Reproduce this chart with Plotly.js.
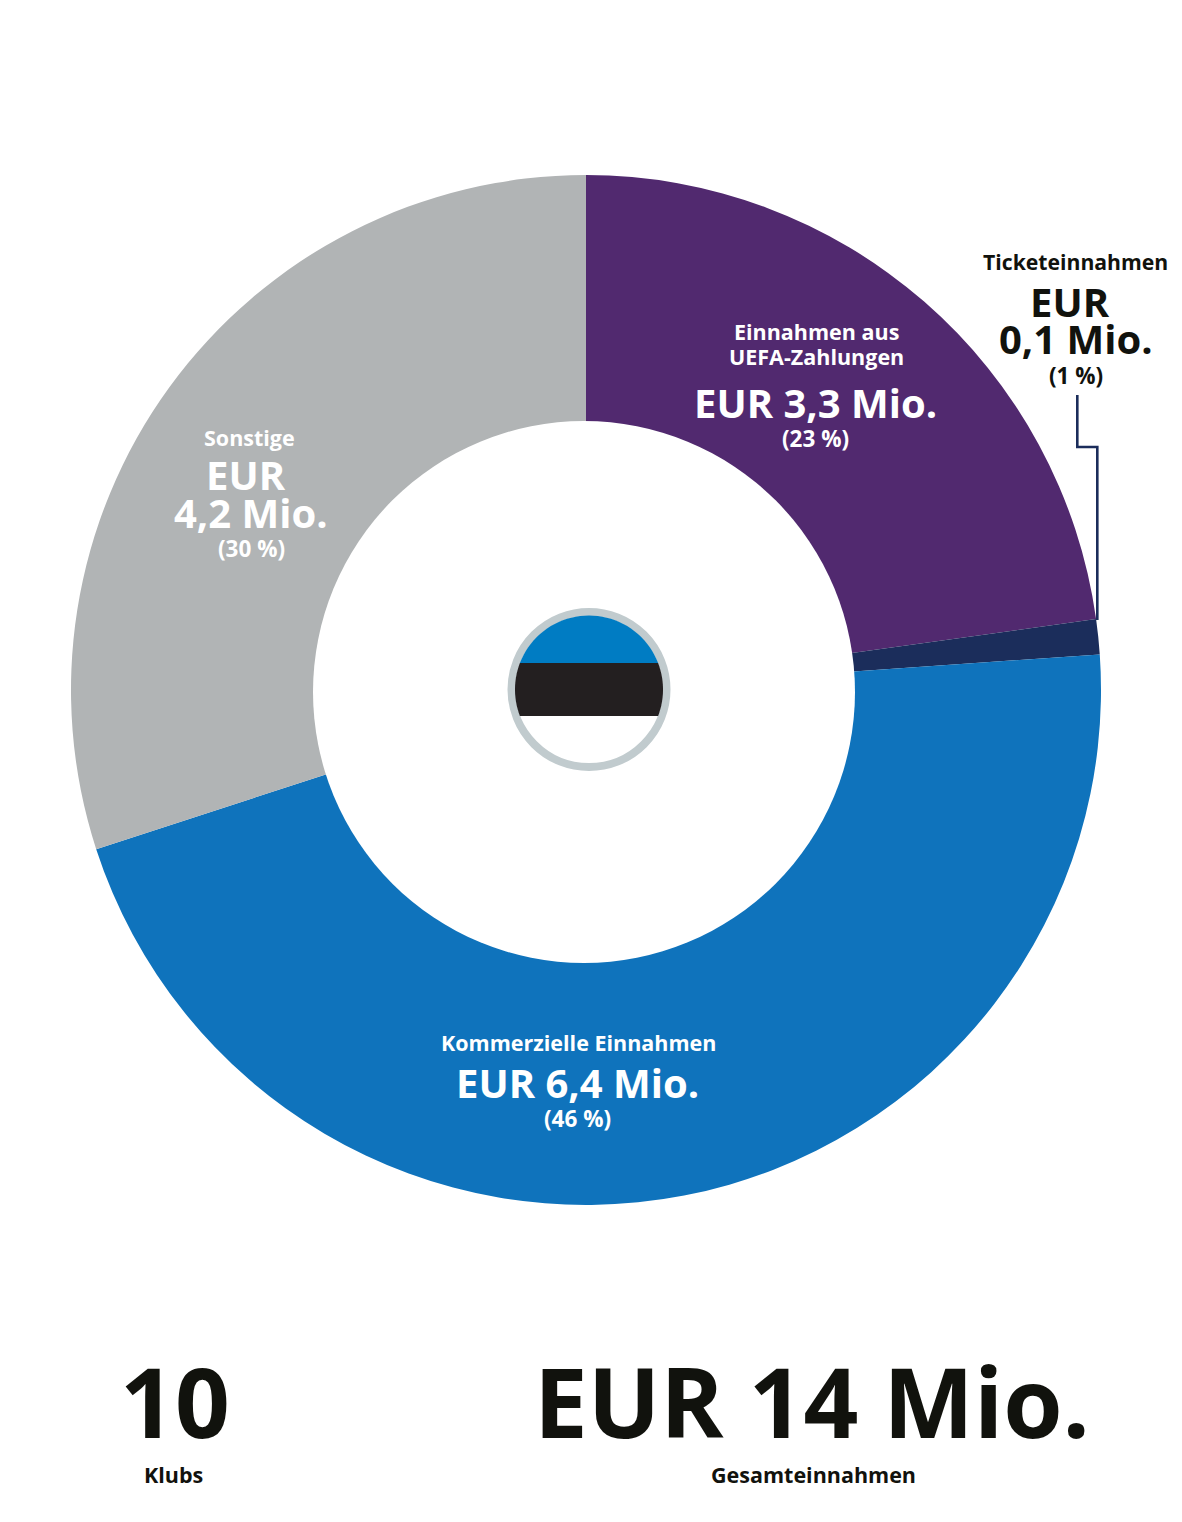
<!DOCTYPE html>
<html><head><meta charset="utf-8">
<script src="https://cdn.plot.ly/plotly-3.0.1.min.js"></script>
<style>html,body{margin:0;padding:0;background:#fff}</style></head>
<body><div id="chart" style="width:1182px;height:1522px"></div>
<script>
const categories = ["Einnahmen aus UEFA-Zahlungen","Ticketeinnahmen","Kommerzielle Einnahmen","Sonstige"];
const shares = [22.8,1.1,46.1,30];
const amounts = ["EUR 3,3 Mio.","EUR 0,1 Mio.","EUR 6,4 Mio.","EUR 4,2 Mio."];
const sliceColors = ["#51296f","#1b2d5b","#0f73bc","#b1b4b5"];
const W=1182,H=1522,FONT='"Open Sans", sans-serif',INK='#11120d';
const S=21.5,B=40,P=22.5,XL=96;
const labels = [
 ["Ticketeinnahmen",1075.5,261,21.2,INK],["EUR",1070,301.5,B,INK],["0,1 Mio.",1076,338.5,B,INK],["(1 %)",1076,375,P,INK],
 ["Einnahmen aus",816,331.5,S,'#fff'],["UEFA-Zahlungen",816,356.5,S,'#fff'],["EUR 3,3 Mio.",815,402,B,'#fff'],["(23 %)",815,438,P,'#fff'],
 ["Sonstige",249.5,437.5,S,'#fff'],["EUR",245.5,474.5,B,'#fff'],["4,2 Mio.",250.5,512.5,B,'#fff'],["(30 %)",251.5,548,P,'#fff'],
 ["Kommerzielle Einnahmen",578,1042.5,S,'#fff'],["EUR 6,4 Mio.",577,1082.5,B,'#fff'],["(46 %)",577.5,1118,P,'#fff'],
 ["10",174.5,1400,XL,INK],["Klubs",173.5,1474.5,S,INK],["EUR 14 Mio.",812,1400,XL,INK],["Gesamteinnahmen",813,1474.5,S,INK]
];
// flag emblem geometry
const fx=589,fy=689.5,fr=74,band=26.5;
function arc(a0,a1){let s='';const n=40;for(let i=0;i<=n;i++){const a=a0+(a1-a0)*i/n;s+=(i?'L':'M')+(fx+fr*Math.cos(a)).toFixed(2)+' '+(fy+fr*Math.sin(a)).toFixed(2);}return s;}
const t=Math.asin(band/fr);
const blue=arc(Math.PI+t,2*Math.PI-t)+'Z';
const black=arc(-t,t)+arc(Math.PI-t,Math.PI+t).replace('M','L')+'Z';
const shapes=[
 {type:'circle',x0:313,x1:855,y0:421,y1:963,fillcolor:'#ffffff',line:{width:0},layer:'above'},
 {type:'path',path:'M1077.3 395V447H1097.3V620',line:{color:'#1b2d5b',width:2.6},layer:'above'},
 {type:'circle',x0:fx-77.5,x1:fx+77.5,y0:fy-77.5,y1:fy+77.5,fillcolor:'#ffffff',line:{color:'#c1cbce',width:8},layer:'above'},
 {type:'path',path:blue,fillcolor:'#007cc3',line:{width:0},layer:'above'},
 {type:'path',path:black,fillcolor:'#231f20',line:{width:0},layer:'above'}
].map(s=>Object.assign({xref:'x',yref:'y'},s));
Plotly.newPlot('chart',[{
 type:'pie',labels:categories,values:shares,customdata:amounts,hole:0.5,sort:false,direction:'clockwise',rotation:0,
 marker:{colors:sliceColors,line:{width:0}},textinfo:'none',hoverinfo:'none',showlegend:false,
 domain:{x:[71/W,1101/W],y:[(H-1205)/H,(H-175)/H]}
}],{
 width:W,height:H,margin:{l:0,r:0,t:0,b:0},paper_bgcolor:'#fff',plot_bgcolor:'rgba(0,0,0,0)',showlegend:false,
 xaxis:{visible:false,range:[0,W],fixedrange:true},yaxis:{visible:false,range:[H,0],fixedrange:true},
 shapes:shapes,
 annotations:labels.map(l=>({text:'<b>'+l[0]+'</b>',x:l[1],y:l[2],xref:'x',yref:'y',xanchor:'center',yanchor:'middle',showarrow:false,font:{family:FONT,size:l[3],color:l[4]}}))
},{staticPlot:true,displayModeBar:false});
</script></body></html>
